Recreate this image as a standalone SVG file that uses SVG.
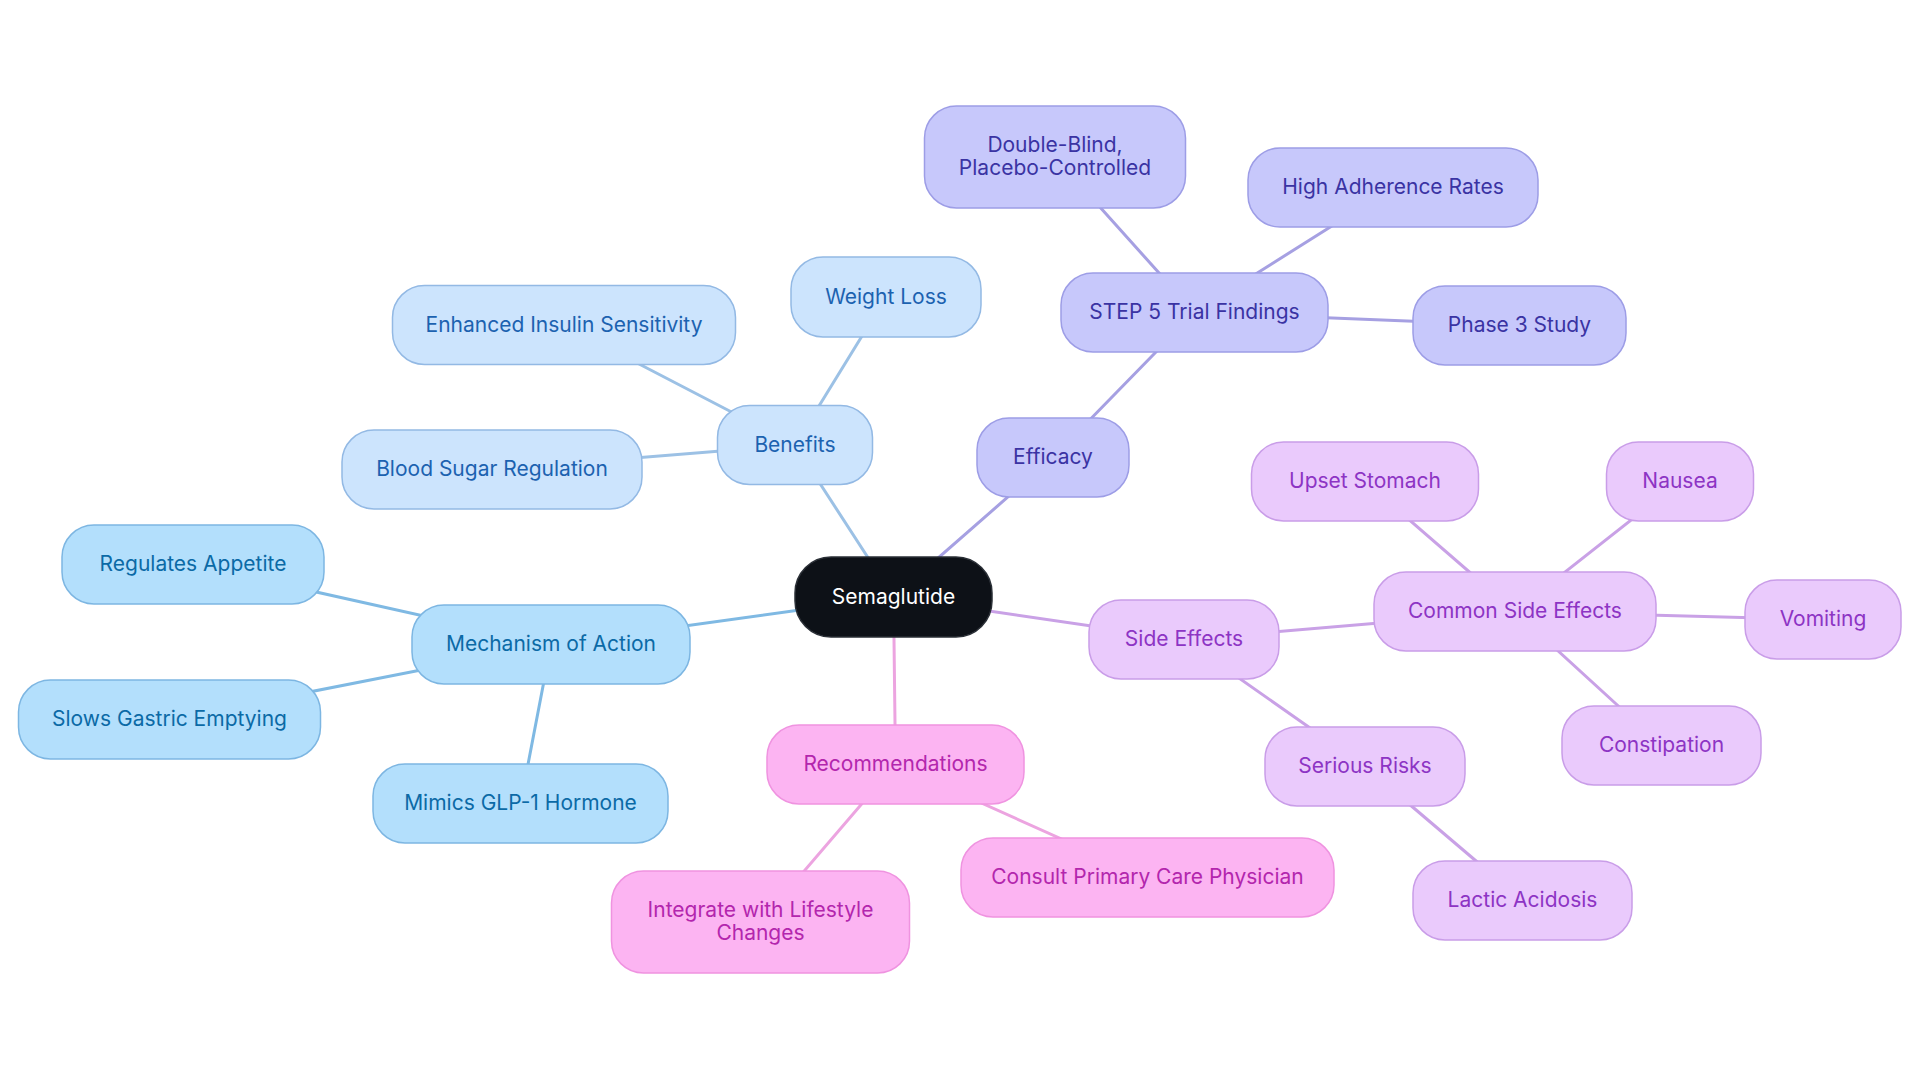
<svg xmlns="http://www.w3.org/2000/svg" width="1920" height="1083" viewBox="0 0 1920 1083">
<style>
text{font-family:Inter,"Noto Sans","Liberation Sans",sans-serif;font-size:21px;text-anchor:middle}
rect{stroke-width:1.5}
.c line{stroke-width:3;stroke-linecap:round}
.root rect{fill:#0d1117;stroke:#2a2f36}
.root text{fill:#ffffff}
.ben rect{fill:#cce4fd;stroke:#93b9e4}
.ben text{fill:#1c62b0}
.mec rect{fill:#b3dffc;stroke:#7db6e2}
.mec text{fill:#0b6aa6}
.eff rect{fill:#c7c8fb;stroke:#9d9de6}
.eff text{fill:#3a33a3}
.sid rect{fill:#eacafc;stroke:#c99de8}
.sid text{fill:#8d34c4}
.rec rect{fill:#fcb4f2;stroke:#ef93e0}
.rec text{fill:#b326ad}
.eb{stroke:#9cc1e5}
.em{stroke:#7fb9e3}
.ee{stroke:#a6a0e2}
.es{stroke:#c9a1e6}
.er{stroke:#eca4e0}
</style>
<rect width="1920" height="1083" fill="#ffffff"/>
<g id="connectors" class="c">
<line class="eb" x1="893.5" y1="597" x2="795" y2="445"/>
<line class="em" x1="893.5" y1="597" x2="551" y2="644.5"/>
<line class="ee" x1="893.5" y1="597" x2="1053" y2="457.5"/>
<line class="es" x1="893.5" y1="597" x2="1184" y2="639.5"/>
<line class="er" x1="893.5" y1="597" x2="895.5" y2="764.5"/>
<line class="eb" x1="795" y1="445" x2="886" y2="297"/>
<line class="eb" x1="795" y1="445" x2="564" y2="325"/>
<line class="eb" x1="795" y1="445" x2="492" y2="469.5"/>
<line class="em" x1="551" y1="644.5" x2="193" y2="564.5"/>
<line class="em" x1="551" y1="644.5" x2="169.5" y2="719.5"/>
<line class="em" x1="551" y1="644.5" x2="520.5" y2="803.5"/>
<line class="ee" x1="1053" y1="457.5" x2="1194.5" y2="312.5"/>
<line class="ee" x1="1194.5" y1="312.5" x2="1055" y2="157"/>
<line class="ee" x1="1194.5" y1="312.5" x2="1393" y2="187.5"/>
<line class="ee" x1="1194.5" y1="312.5" x2="1519.5" y2="325.5"/>
<line class="es" x1="1184" y1="639.5" x2="1515" y2="611.5"/>
<line class="es" x1="1184" y1="639.5" x2="1365" y2="766.5"/>
<line class="es" x1="1515" y1="611.5" x2="1365" y2="481.5"/>
<line class="es" x1="1515" y1="611.5" x2="1680" y2="481.5"/>
<line class="es" x1="1515" y1="611.5" x2="1823" y2="619.5"/>
<line class="es" x1="1515" y1="611.5" x2="1661.5" y2="745.5"/>
<line class="es" x1="1365" y1="766.5" x2="1522.5" y2="900.5"/>
<line class="er" x1="895.5" y1="764.5" x2="760.5" y2="922"/>
<line class="er" x1="895.5" y1="764.5" x2="1147.5" y2="877.5"/>
</g>
<g id="node-semaglutide" class="root"><rect x="795" y="557" width="197" height="80" rx="36"/><text x="893.5" y="603.5">Semaglutide</text></g>
<g id="node-benefits" class="ben"><rect x="717.5" y="405.5" width="155" height="79" rx="32"/><text x="795" y="451.5">Benefits</text></g>
<g id="node-weight-loss" class="ben"><rect x="791" y="257" width="190" height="80" rx="32"/><text x="886" y="303.5">Weight Loss</text></g>
<g id="node-enhanced-insulin" class="ben"><rect x="392.5" y="285.5" width="343" height="79" rx="32"/><text x="564" y="331.5">Enhanced Insulin Sensitivity</text></g>
<g id="node-blood-sugar" class="ben"><rect x="342" y="430" width="300" height="79" rx="32"/><text x="492" y="476">Blood Sugar Regulation</text></g>
<g id="node-mechanism" class="mec"><rect x="412" y="605" width="278" height="79" rx="32"/><text x="551" y="651">Mechanism of Action</text></g>
<g id="node-regulates-appetite" class="mec"><rect x="62" y="525" width="262" height="79" rx="32"/><text x="193" y="571">Regulates Appetite</text></g>
<g id="node-slows-gastric" class="mec"><rect x="18.5" y="680" width="302" height="79" rx="32"/><text x="169.5" y="726">Slows Gastric Emptying</text></g>
<g id="node-mimics-glp1" class="mec"><rect x="373" y="764" width="295" height="79" rx="32"/><text x="520.5" y="810">Mimics GLP-1 Hormone</text></g>
<g id="node-efficacy" class="eff"><rect x="977" y="418" width="152" height="79" rx="32"/><text x="1053" y="464">Efficacy</text></g>
<g id="node-step5" class="eff"><rect x="1061" y="273" width="267" height="79" rx="32"/><text x="1194.5" y="319">STEP 5 Trial Findings</text></g>
<g id="node-double-blind" class="eff"><rect x="924.5" y="106" width="261" height="102" rx="32"/><text x="1055" y="152">Double-Blind,</text><text x="1055" y="175">Placebo-Controlled</text></g>
<g id="node-high-adherence" class="eff"><rect x="1248" y="148" width="290" height="79" rx="32"/><text x="1393" y="194">High Adherence Rates</text></g>
<g id="node-phase3" class="eff"><rect x="1413" y="286" width="213" height="79" rx="32"/><text x="1519.5" y="332">Phase 3 Study</text></g>
<g id="node-side-effects" class="sid"><rect x="1089" y="600" width="190" height="79" rx="32"/><text x="1184" y="646">Side Effects</text></g>
<g id="node-common-side-effects" class="sid"><rect x="1374" y="572" width="282" height="79" rx="32"/><text x="1515" y="618">Common Side Effects</text></g>
<g id="node-upset-stomach" class="sid"><rect x="1251.5" y="442" width="227" height="79" rx="32"/><text x="1365" y="488">Upset Stomach</text></g>
<g id="node-nausea" class="sid"><rect x="1606.5" y="442" width="147" height="79" rx="32"/><text x="1680" y="488">Nausea</text></g>
<g id="node-vomiting" class="sid"><rect x="1745" y="580" width="156" height="79" rx="32"/><text x="1823" y="626">Vomiting</text></g>
<g id="node-constipation" class="sid"><rect x="1562" y="706" width="199" height="79" rx="32"/><text x="1661.5" y="752">Constipation</text></g>
<g id="node-serious-risks" class="sid"><rect x="1265" y="727" width="200" height="79" rx="32"/><text x="1365" y="773">Serious Risks</text></g>
<g id="node-lactic-acidosis" class="sid"><rect x="1413" y="861" width="219" height="79" rx="32"/><text x="1522.5" y="907">Lactic Acidosis</text></g>
<g id="node-recommendations" class="rec"><rect x="767" y="725" width="257" height="79" rx="32"/><text x="895.5" y="771">Recommendations</text></g>
<g id="node-integrate" class="rec"><rect x="611.5" y="871" width="298" height="102" rx="32"/><text x="760.5" y="917">Integrate with Lifestyle</text><text x="760.5" y="940">Changes</text></g>
<g id="node-consult" class="rec"><rect x="961" y="838" width="373" height="79" rx="32"/><text x="1147.5" y="884">Consult Primary Care Physician</text></g>
</svg>
